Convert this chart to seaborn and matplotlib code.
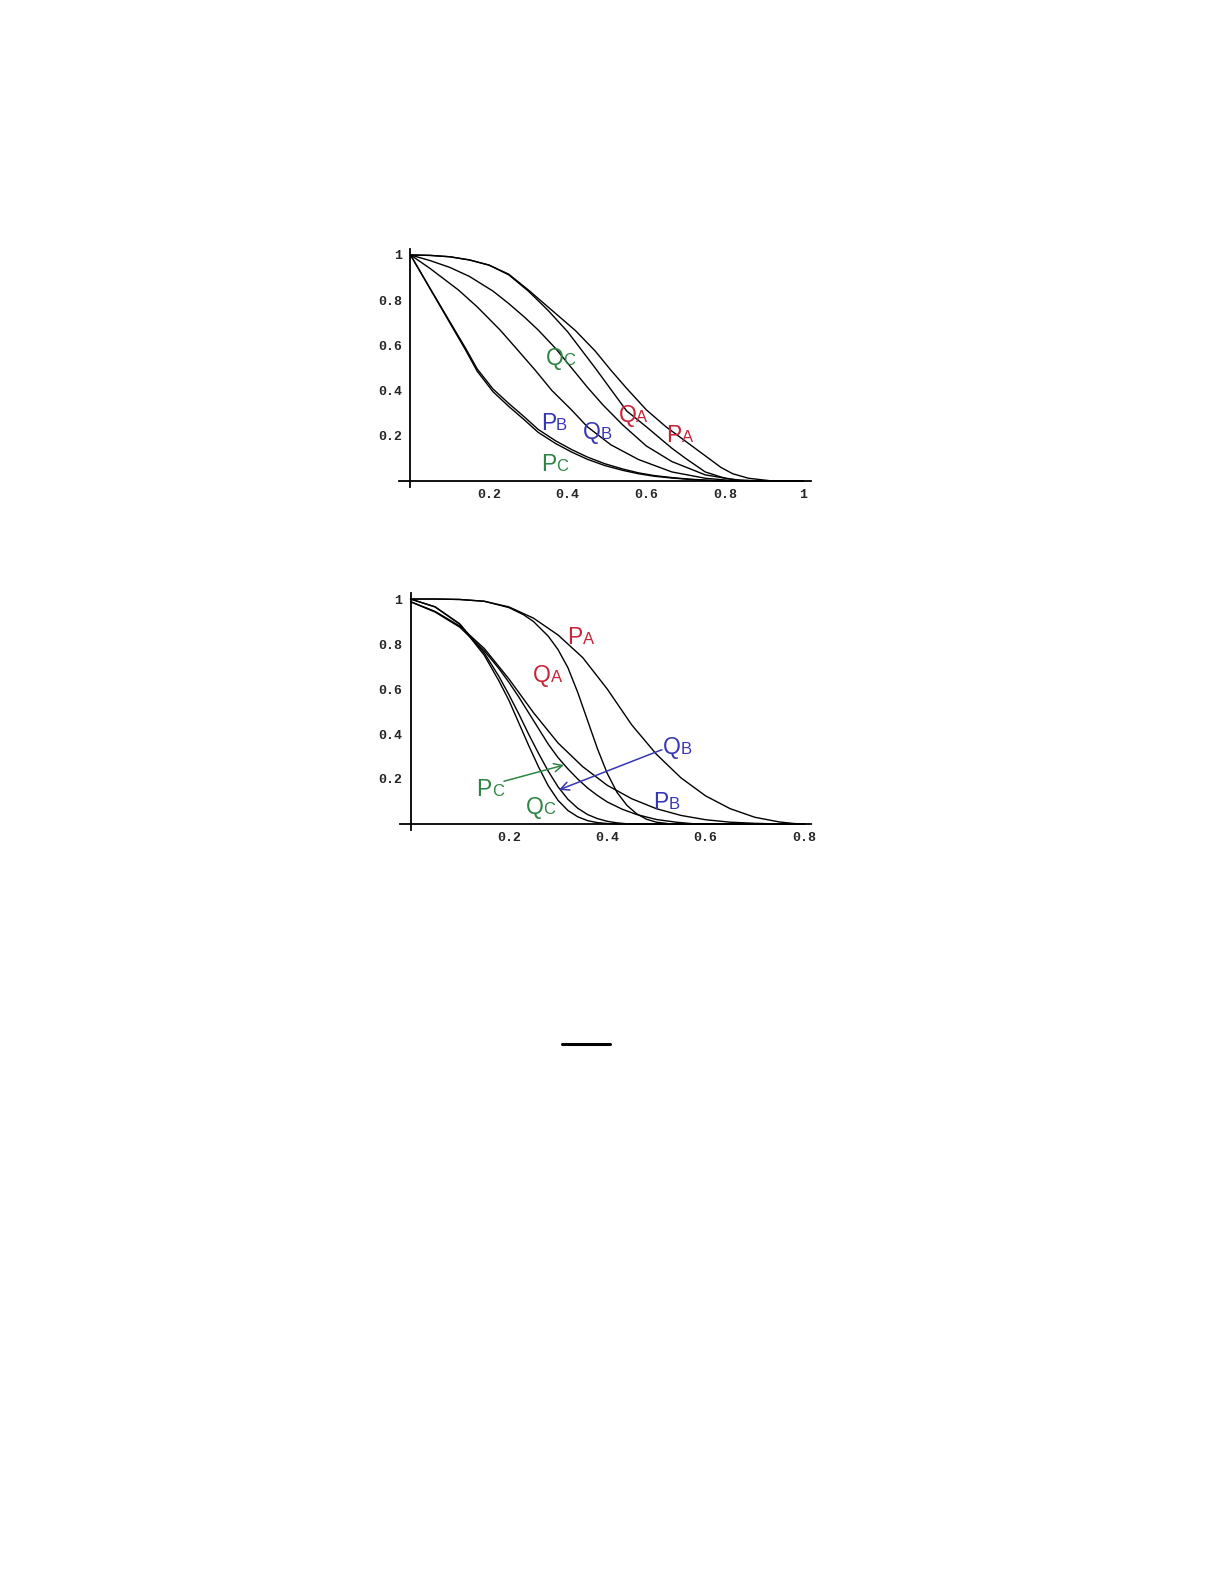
import matplotlib
matplotlib.use("Agg")
import matplotlib.pyplot as plt
import pandas as pd
import seaborn as sns
from matplotlib.lines import Line2D
from matplotlib.ticker import FixedLocator, FuncFormatter

# ---- top panel: curves ----
top_pa_x = [0, 0.05, 0.10, 0.15, 0.20, 0.25, 0.30, 0.35, 0.42, 0.47, 0.51, 0.55, 0.60, 0.65, 0.72, 0.79, 0.82, 0.86, 0.92, 1.0]
top_pa_y = [1.0, 0.998, 0.992, 0.978, 0.955, 0.915, 0.845, 0.77, 0.665, 0.575, 0.49, 0.41, 0.315, 0.24, 0.15, 0.06, 0.032, 0.012, 0.0, 0.0]
top_qa_x = [0, 0.05, 0.10, 0.15, 0.20, 0.25, 0.30, 0.35, 0.40, 0.47, 0.55, 0.60, 0.665, 0.70, 0.75, 0.80, 0.84, 0.88, 1.0]
top_qa_y = [1.0, 0.998, 0.992, 0.978, 0.955, 0.912, 0.84, 0.755, 0.66, 0.5, 0.31, 0.24, 0.145, 0.1, 0.04, 0.012, 0.003, 0.0, 0.0]
top_qc_x = [0, 0.05, 0.10, 0.15, 0.21, 0.25, 0.29, 0.325, 0.37, 0.41, 0.45, 0.49, 0.54, 0.60, 0.665, 0.75, 0.83, 0.90, 1.0]
top_qc_y = [1.0, 0.975, 0.945, 0.905, 0.84, 0.785, 0.725, 0.668, 0.585, 0.5, 0.415, 0.336, 0.248, 0.155, 0.086, 0.027, 0.004, 0.0, 0.0]
top_qb_x = [0, 0.05, 0.122, 0.17, 0.228, 0.27, 0.317, 0.36, 0.41, 0.45, 0.51, 0.58, 0.665, 0.75, 0.83, 1.0]
top_qb_y = [1.0, 0.94, 0.845, 0.77, 0.668, 0.585, 0.491, 0.4, 0.314, 0.24, 0.16, 0.095, 0.04, 0.012, 0.0, 0.0]
top_p_x = [0, 0.05, 0.10, 0.14, 0.17, 0.21, 0.25, 0.29, 0.325, 0.37, 0.41, 0.45, 0.495, 0.54, 0.58, 0.62, 0.665, 0.71, 0.75, 0.80, 1.0]
top_pc_y = [1.0, 0.85, 0.70, 0.58, 0.485, 0.395, 0.33, 0.27, 0.215, 0.165, 0.128, 0.096, 0.068, 0.047, 0.032, 0.021, 0.013, 0.007, 0.003, 0.0, 0.0]
top_pb_y = [1.0, 0.852, 0.705, 0.588, 0.495, 0.407, 0.343, 0.283, 0.228, 0.177, 0.139, 0.106, 0.076, 0.053, 0.036, 0.024, 0.015, 0.008, 0.004, 0.0, 0.0]

# ---- bottom panel ----
bot_pa_x = [0, 0.05, 0.10, 0.15, 0.20, 0.25, 0.30, 0.35, 0.40, 0.45, 0.50, 0.55, 0.60, 0.65, 0.70, 0.75, 0.78, 0.80]
bot_pa_y = [1.0, 1.0, 0.998, 0.99, 0.965, 0.915, 0.84, 0.74, 0.6, 0.44, 0.31, 0.205, 0.125, 0.068, 0.03, 0.009, 0.002, 0.0]
bot_qa_x = [0, 0.05, 0.10, 0.15, 0.20, 0.23, 0.25, 0.28, 0.30, 0.32, 0.34, 0.36, 0.38, 0.40, 0.42, 0.44, 0.46, 0.48, 0.50, 0.53, 0.80]
bot_qa_y = [1.0, 1.0, 0.998, 0.99, 0.962, 0.93, 0.9, 0.835, 0.775, 0.695, 0.585, 0.46, 0.335, 0.225, 0.14, 0.083, 0.045, 0.021, 0.008, 0.0, 0.0]
bot_qc_x = [0, 0.05, 0.10, 0.15, 0.18, 0.20, 0.22, 0.24, 0.26, 0.28, 0.30, 0.32, 0.34, 0.36, 0.38, 0.40, 0.42, 0.80]
bot_qc_y = [1.0, 0.965, 0.888, 0.75, 0.635, 0.55, 0.45, 0.35, 0.255, 0.17, 0.105, 0.06, 0.032, 0.015, 0.006, 0.002, 0.0, 0.0]
bot_qb_x = [0, 0.05, 0.10, 0.15, 0.18, 0.20, 0.22, 0.24, 0.26, 0.28, 0.30, 0.32, 0.34, 0.36, 0.38, 0.40, 0.42, 0.44, 0.46, 0.80]
bot_qb_y = [1.0, 0.965, 0.89, 0.76, 0.655, 0.575, 0.49, 0.4, 0.315, 0.235, 0.165, 0.11, 0.07, 0.042, 0.024, 0.012, 0.005, 0.001, 0.0, 0.0]
bot_pc_x = [0, 0.05, 0.10, 0.15, 0.18, 0.20, 0.22, 0.24, 0.26, 0.28, 0.30, 0.32, 0.34, 0.36, 0.38, 0.40, 0.43, 0.46, 0.50, 0.54, 0.58, 0.80]
bot_pc_y = [0.988, 0.942, 0.875, 0.77, 0.69, 0.63, 0.565, 0.495, 0.425, 0.355, 0.295, 0.245, 0.2, 0.16, 0.127, 0.098, 0.066, 0.042, 0.02, 0.008, 0.0, 0.0]
bot_pb_x = [0, 0.05, 0.10, 0.15, 0.20, 0.25, 0.30, 0.35, 0.40, 0.45, 0.50, 0.55, 0.60, 0.65, 0.70, 0.75, 0.80]
bot_pb_y = [0.988, 0.945, 0.88, 0.78, 0.645, 0.495, 0.36, 0.255, 0.172, 0.112, 0.068, 0.038, 0.019, 0.008, 0.003, 0.0, 0.0]

RED = "#c82337"
GREEN = "#2e8545"
BLUE = "#3636b4"

# label: (big letter, small letter, colour, x at joint, baseline y)
top_labels = [
    ("Q", "C", GREEN, 0.389, 0.515),
    ("P", "B", BLUE, 0.370, 0.224),
    ("Q", "B", BLUE, 0.485, 0.184),
    ("Q", "A", RED, 0.575, 0.260),
    ("P", "A", RED, 0.690, 0.171),
    ("P", "C", GREEN, 0.371, 0.044),
]
bot_labels = [
    ("P", "A", RED, 0.350, 0.798),
    ("Q", "A", RED, 0.285, 0.633),
    ("Q", "B", BLUE, 0.549, 0.313),
    ("P", "B", BLUE, 0.525, 0.067),
    ("P", "C", GREEN, 0.165, 0.124),
    ("Q", "C", GREEN, 0.270, 0.043),
]
# arrows in the lower panel: (tail, head, colour)
bot_arrows = [
    ((0.190, 0.190), (0.312, 0.262), GREEN),
    ((0.511, 0.330), (0.302, 0.152), BLUE),
]


def frame(curves):
    parts = [pd.DataFrame({"x": xs, "y": ys, "curve": name}) for name, xs, ys in curves]
    return pd.concat(parts, ignore_index=True)


top_df = frame([
    ("PA", top_pa_x, top_pa_y), ("QA", top_qa_x, top_qa_y),
    ("QC", top_qc_x, top_qc_y), ("QB", top_qb_x, top_qb_y),
    ("PB", top_p_x, top_pb_y), ("PC", top_p_x, top_pc_y),
])
bot_df = frame([
    ("PA", bot_pa_x, bot_pa_y), ("QA", bot_qa_x, bot_qa_y),
    ("QC", bot_qc_x, bot_qc_y), ("QB", bot_qb_x, bot_qb_y),
    ("PC", bot_pc_x, bot_pc_y), ("PB", bot_pb_x, bot_pb_y),
])

sns.set_style("white")
plt.rcParams["font.family"] = ["Liberation Sans", "DejaVu Sans"]

fig = plt.figure(figsize=(12.25, 15.85), dpi=100)
ax_top = fig.add_axes([0.3261, 0.6927, 0.3362, 0.1503])
ax_bot = fig.add_axes([0.3263, 0.4763, 0.3360, 0.1496])


def tick_text(v, pos):
    return "1" if abs(v - 1) < 1e-9 else f"{v:.1f}"


def style_axes(ax, xmin, xmax, majors):
    ax.set_xlim(xmin, xmax)
    ax.set_ylim(-0.027, 1.027)
    for side in ("top", "right"):
        ax.spines[side].set_visible(False)
    for side in ("left", "bottom"):
        ax.spines[side].set_position(("data", 0))
        ax.spines[side].set_linewidth(1.3)
        ax.spines[side].set_color("black")
    ax.xaxis.set_major_locator(FixedLocator(majors))
    ax.xaxis.set_minor_locator(FixedLocator([i * 0.05 for i in range(1, int(round(majors[-1] / 0.05)) + 1)]))
    ax.yaxis.set_major_locator(FixedLocator([0.2, 0.4, 0.6, 0.8, 1.0]))
    ax.yaxis.set_minor_locator(FixedLocator([i * 0.05 for i in range(1, 21)]))
    ax.xaxis.set_major_formatter(FuncFormatter(tick_text))
    ax.yaxis.set_major_formatter(FuncFormatter(tick_text))
    ax.tick_params(which="major", direction="in", length=4, width=1.0, color="black", pad=6)
    ax.tick_params(which="minor", direction="in", length=2.2, width=0.9, color="black")
    for lab in ax.get_xticklabels() + ax.get_yticklabels():
        lab.set_fontfamily("Liberation Mono")
        lab.set_fontweight("bold")
        lab.set_fontsize(9.5)
    ax.set_xlabel("")
    ax.set_ylabel("")
    ax.set_facecolor("white")


def put_labels(ax, labels):
    for big, small, color, x, y in labels:
        ax.text(x, y, big, ha="right", va="baseline", fontsize=16.5, color=color)
        ax.text(x, y, small, ha="left", va="baseline", fontsize=12, color=color)


for ax, df in ((ax_top, top_df), (ax_bot, bot_df)):
    sns.lineplot(data=df, x="x", y="y", units="curve", estimator=None, sort=False,
                 color="black", linewidth=1.0, ax=ax, legend=False)

style_axes(ax_top, -0.028, 1.02, [0.2, 0.4, 0.6, 0.8, 1.0])
style_axes(ax_bot, -0.022, 0.815, [0.2, 0.4, 0.6, 0.8])

put_labels(ax_top, top_labels)
put_labels(ax_bot, bot_labels)

for tail, head, color in bot_arrows:
    ax_bot.annotate("", xy=head, xytext=tail,
                    arrowprops=dict(arrowstyle="->,head_length=0.6,head_width=0.3",
                                    color=color, lw=1.1, shrinkA=0, shrinkB=0))

# short black rule further down the page
fig.add_artist(Line2D([0.4585, 0.498], [0.3415, 0.3415], color="black", linewidth=2.2))

fig.savefig("out.png", dpi=100, facecolor="white")
plt.close(fig)
